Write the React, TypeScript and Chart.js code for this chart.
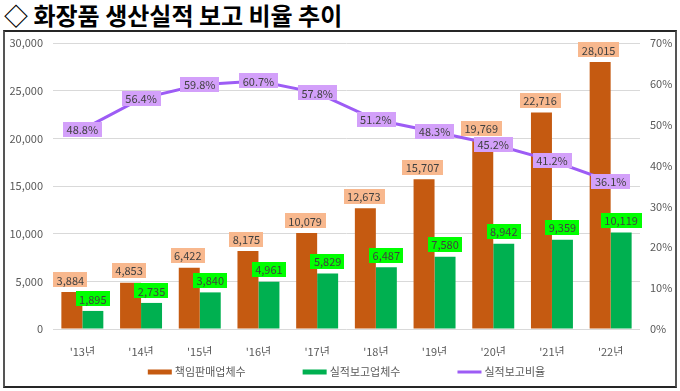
import React, { useEffect, useRef } from "react";
import { Chart, registerables } from "chart.js";

Chart.register(...registerables);

const categories = ["'13년", "'14년", "'15년", "'16년", "'17년", "'18년", "'19년", "'20년", "'21년", "'22년"];
const responsibleSellers = [3884, 4853, 6422, 8175, 10079, 12673, 15707, 19769, 22716, 28015];
const reportingCompanies = [1895, 2735, 3840, 4961, 5829, 6487, 7580, 8942, 9359, 10119];
const reportRatio = [48.8, 56.4, 59.8, 60.7, 57.8, 51.2, 48.3, 45.2, 41.2, 36.1];
const leftTicksMax = 30000;
const rightTicksMax = 70;

const FONT = "'Noto Sans CJK KR', 'Noto Sans', sans-serif";
const ORANGE = "#C55A11";
const GREEN = "#00B050";
const PURPLE = "#9D5CF5";
const ORANGE_LBL = "#F8B88E";
const GREEN_LBL = "#00FF00";
const PURPLE_LBL = "#D3A0FA";

const labelPlugin = {
  id: "valueLabels",
  afterDatasetsDraw(chart: any) {
    const ctx = chart.ctx;
    ctx.save();
    ctx.font = `11px ${FONT}`;
    ctx.textAlign = "center";
    ctx.textBaseline = "middle";
    const drawBox = (cx: number, cy: number, text: string, bg: string) => {
      const w = ctx.measureText(text).width + 7;
      const h = 15;
      ctx.fillStyle = bg;
      ctx.fillRect(Math.round(cx - w / 2), Math.round(cy - h / 2), Math.round(w), h);
      ctx.fillStyle = "#404040";
      ctx.fillText(text, cx, cy + 0.5);
    };
    chart.data.datasets.forEach((ds: any, i: number) => {
      const meta = chart.getDatasetMeta(i);
      meta.data.forEach((el: any, j: number) => {
        const v = ds.data[j];
        if (ds.type === "line") {
          drawBox(el.x, el.y, v.toFixed(1) + "%", PURPLE_LBL);
        } else {
          const txt = v.toLocaleString("en-US");
          const off = i === 1 ? -1.5 : 0;
          drawBox(el.x + off, el.y - 12, txt, i === 1 ? ORANGE_LBL : GREEN_LBL);
        }
      });
    });
    ctx.restore();
  },
};

const legendPlugin = {
  id: "customLegend",
  afterDraw(chart: any) {
    const ctx = chart.ctx;
    ctx.save();
    ctx.font = `11px ${FONT}`;
    ctx.textBaseline = "middle";
    ctx.textAlign = "left";
    const items = [1, 2, 0].map((i) => chart.data.datasets[i]);
    const boxW = 24;
    const gapText = 3;
    const gapItem = 57;
    const widths = items.map((d: any) => boxW + gapText + ctx.measureText(d.label).width);
    const total = widths.reduce((a: number, b: number) => a + b, 0) + gapItem * (items.length - 1);
    const cx = (chart.chartArea.left + chart.chartArea.right) / 2;
    let x = cx - total / 2;
    const y = chart.chartArea.bottom + 43;
    items.forEach((d: any, k: number) => {
      ctx.fillStyle = d.type === "line" ? d.borderColor : d.backgroundColor;
      const bh = d.type === "line" ? 3 : 5;
      ctx.fillRect(x, y - bh / 2, boxW, bh);
      ctx.fillStyle = "#595959";
      ctx.fillText(d.label, x + boxW + gapText, y);
      x += widths[k] + gapItem;
    });
    ctx.restore();
  },
};

export default function App() {
  const ref = useRef<HTMLCanvasElement>(null);
  useEffect(() => {
    document.body.style.margin = "0";
    const chart = new Chart(ref.current as HTMLCanvasElement, {
      type: "bar",
      data: {
        labels: categories,
        datasets: [
          {
            type: "line",
            label: "실적보고비율",
            data: reportRatio,
            borderColor: PURPLE,
            backgroundColor: PURPLE,
            borderWidth: 3,
            pointRadius: 0,
            tension: 0,
            yAxisID: "y1",
            order: 0,
          } as any,
          {
            type: "bar",
            label: "책임판매업체수",
            data: responsibleSellers,
            backgroundColor: ORANGE,
            yAxisID: "y",
            order: 1,
          },
          {
            type: "bar",
            label: "실적보고업체수",
            data: reportingCompanies,
            backgroundColor: GREEN,
            yAxisID: "y",
            order: 1,
          },
        ],
      },
      options: {
        animation: false,
        responsive: false,
        maintainAspectRatio: false,
        layout: { padding: { top: 43, left: 0, right: 0, bottom: 35 } },
        datasets: { bar: { categoryPercentage: 0.715, barPercentage: 1 } } as any,
        plugins: {
          legend: { display: false },
          tooltip: { enabled: false },
          title: { display: false },
        },
        scales: {
          x: {
            grid: { display: false },
            border: { display: false },
            ticks: { color: "#595959", font: { family: FONT, size: 11 }, padding: 8, maxRotation: 0 },
            afterFit: (s: any) => { s.height = 27; },
          },
          y: {
            position: "left",
            min: 0,
            max: leftTicksMax,
            grid: { color: "#D9D9D9", drawTicks: false },
            border: { display: false },
            ticks: {
              stepSize: 5000,
              color: "#595959",
              font: { family: FONT, size: 11 },
              padding: 10,
              callback: (v: any) => Number(v).toLocaleString("en-US"),
            },
            afterFit: (s: any) => { s.width = 53; },
          },
          y1: {
            position: "right",
            min: 0,
            max: rightTicksMax,
            grid: { display: false, drawTicks: false },
            border: { display: false },
            ticks: {
              stepSize: 10,
              color: "#595959",
              font: { family: FONT, size: 11 },
              padding: 10,
              callback: (v: any) => v + "%",
            },
            afterFit: (s: any) => { s.width = 40; },
          },
        },
      },
      plugins: [labelPlugin, legendPlugin],
    });
    return () => chart.destroy();
  }, []);

  return (
    <div style={{ position: "relative", width: 680, height: 391, background: "#fff", overflow: "hidden" }}>
      <div
        style={{
          position: "absolute",
          left: 4,
          top: 0,
          fontFamily: FONT,
          fontWeight: 700,
          fontSize: 24,
          lineHeight: "30px",
          color: "#000",
          whiteSpace: "nowrap",
        }}
      >
        ◇ 화장품 생산실적 보고 비율 추이
      </div>
      <div
        style={{
          position: "absolute",
          left: 3,
          top: 30,
          width: 674,
          height: 358,
          boxSizing: "border-box",
          border: "2px solid #262626",
          borderLeftColor: "#555",
          borderRightColor: "#555",
        }}
      />
      <canvas ref={ref} width={680} height={391} style={{ position: "absolute", left: 0, top: 0, width: 680, height: 391 }} />
    </div>
  );
}
